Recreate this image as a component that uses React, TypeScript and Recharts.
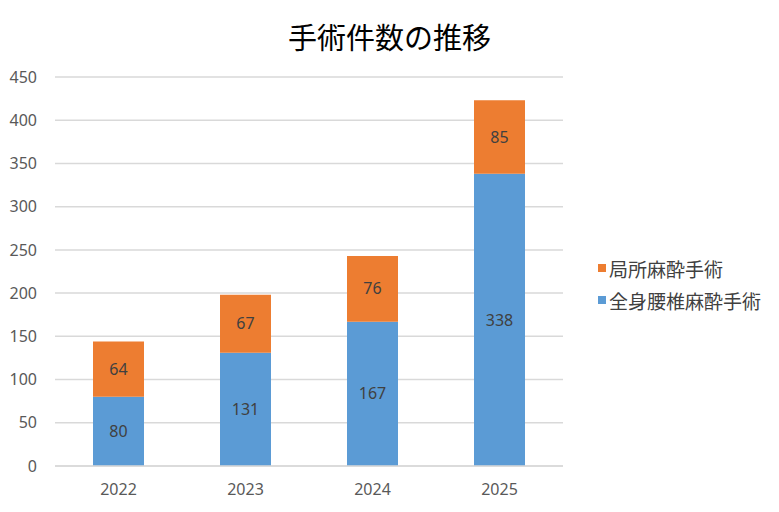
import { BarChart, Bar, XAxis, YAxis, CartesianGrid, Legend, LabelList } from "recharts";

const years = ["2022", "2023", "2024", "2025"];
const generalSpinal = [80, 131, 167, 338];
const local = [64, 67, 76, 85];
const yTicks = [0, 50, 100, 150, 200, 250, 300, 350, 400, 450];

const data = years.map((year, i) => ({
    year,
    general: generalSpinal[i],
    local: local[i],
}));

const BLUE = "#5B9BD5";
const ORANGE = "#ED7D31";
const FONT = "'Noto Sans', 'Noto Sans CJK JP', sans-serif";

// legend shows orange on top like Excel does
const legendItems = [
    { name: "局所麻酔手術", color: ORANGE },
    { name: "全身腰椎麻酔手術", color: BLUE },
];

const renderLegend = () => (
    <div style={{ fontFamily: "'Noto Sans CJK JP', sans-serif", fontSize: 19, color: "#404040" }}>
        {legendItems.map((item) => (
            <div key={item.name} style={{ display: "flex", alignItems: "center", height: 32 }}>
                <span style={{ width: 8, height: 8, background: item.color, marginRight: 3 }} />
                <span>{item.name}</span>
            </div>
        ))}
    </div>
);

export default function App() {
    return (
        <div style={{ position: "absolute", left: 0, top: 0, width: 779, height: 512, background: "#fff" }}>
            <div
                style={{
                    position: "absolute",
                    left: 0,
                    top: 14,
                    width: 779,
                    textAlign: "center",
                    fontFamily: "'Noto Sans CJK JP', sans-serif",
                    fontSize: 29,
                    lineHeight: "44px",
                    color: "#000",
                }}
            >
                手術件数の推移
            </div>
            <BarChart
                width={779}
                height={512}
                data={data}
                margin={{ top: 77, right: 216, bottom: 16, left: 0 }}
            >
                <CartesianGrid vertical={false} stroke="#d9d9d9" strokeWidth={1.5} />
                <XAxis
                    dataKey="year"
                    height={30}
                    tickLine={false}
                    axisLine={{ stroke: "#d9d9d9", strokeWidth: 1.5 }}
                    tickMargin={12}
                    tick={{ fill: "#595959", fontSize: 16, fontFamily: FONT }}
                />
                <YAxis
                    width={55}
                    domain={[0, 450]}
                    ticks={yTicks}
                    interval={0}
                    tickLine={false}
                    axisLine={false}
                    tickMargin={12}
                    tick={{ fill: "#595959", fontSize: 16, fontFamily: FONT }}
                />
                <Legend
                    layout="vertical"
                    align="center"
                    verticalAlign="middle"
                    content={renderLegend}
                    wrapperStyle={{ left: 598, top: 252, width: 181 }}
                />
                <Bar dataKey="general" name="全身腰椎麻酔手術" stackId="a" fill={BLUE} barSize={51} isAnimationActive={false}>
                    <LabelList dataKey="general" position="center" fill="#404040" fontSize={16} fontFamily={FONT} />
                </Bar>
                <Bar dataKey="local" name="局所麻酔手術" stackId="a" fill={ORANGE} barSize={51} isAnimationActive={false}>
                    <LabelList dataKey="local" position="center" fill="#404040" fontSize={16} fontFamily={FONT} />
                </Bar>
            </BarChart>
        </div>
    );
}
